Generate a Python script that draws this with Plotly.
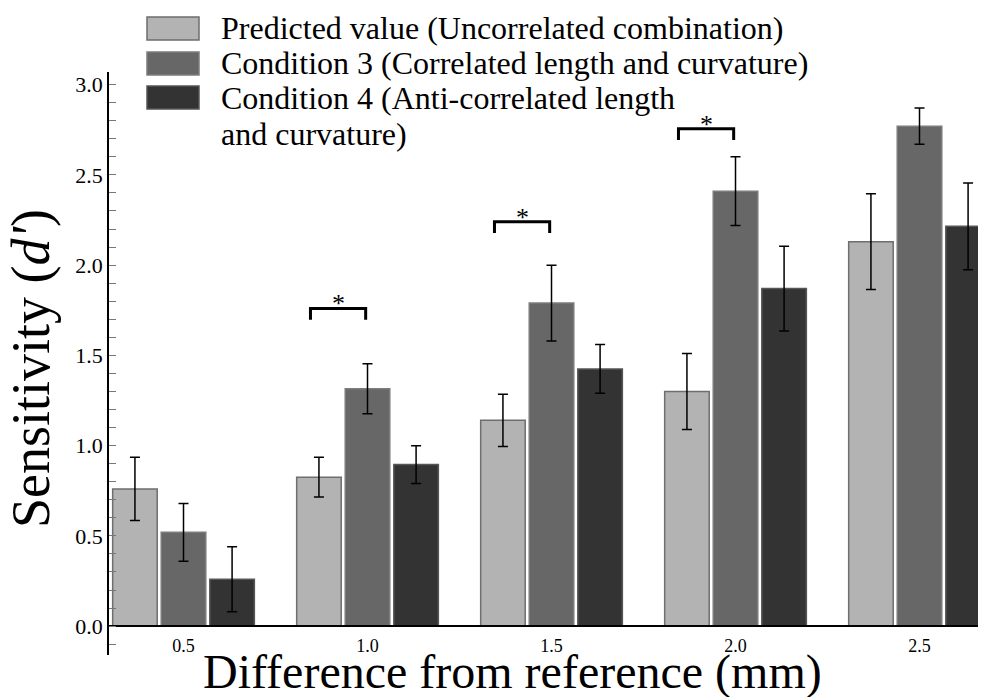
import plotly.graph_objects as go

# ---------------- data ----------------
differences = [0.5, 1.0, 1.5, 2.0, 2.5]
tick_labels = ["0.5", "1.0", "1.5", "2.0", "2.5"]

series_names = [
    "Predicted value (Uncorrelated combination)",
    "Condition 3 (Correlated length and curvature)",
    "Condition 4 (Anti-correlated length<br>and curvature)",
]
predicted = [0.76, 0.825, 1.14, 1.30, 2.13]
predicted_err = [0.175, 0.11, 0.145, 0.21, 0.265]
condition3 = [0.52, 1.315, 1.79, 2.41, 2.77]
condition3_err = [0.16, 0.138, 0.21, 0.19, 0.10]
condition4 = [0.26, 0.895, 1.425, 1.87, 2.215]
condition4_err = [0.18, 0.105, 0.135, 0.235, 0.24]

sig_groups = [1.0, 1.5, 2.0]
sig_heights = [1.76, 2.24, 2.755]

# ---------------- styles ----------------
fills = ["#b3b3b3", "#676767", "#333333"]
edges = ["#6e6e6e", "#7c7c7c", "#565656"]
SERIF = "Liberation Serif, Times New Roman, serif"

# the page adds an 8px body margin; size the figure so it fills the window
PAGE_OFF = 8
W, H = 986 - PAGE_OFF, 697 - PAGE_OFF
ML, MR, MT, MB = 108 - PAGE_OFF, 0, 72 - PAGE_OFF, 42
plot_w = W - ML - MR
plot_h = H - MT - MB


def px(xp):
    """page x pixel -> paper fraction"""
    return (xp - PAGE_OFF - ML) / plot_w


def py(yp):
    """page y pixel -> paper fraction"""
    return (H - MB - (yp - PAGE_OFF)) / plot_h


fig = go.Figure()
values = [predicted, condition3, condition4]
errors = [predicted_err, condition3_err, condition4_err]
for name, vals, errs, fc, ec in zip(series_names, values, errors, fills, edges):
    fig.add_trace(go.Bar(
        x=differences, y=vals, name=name.replace("<br>", " "),
        marker=dict(color=fc, line=dict(color=ec, width=1.5)),
        error_y=dict(type="data", array=errs, visible=True,
                     color="black", thickness=1.5, width=5),
        showlegend=False,
    ))

# significance brackets
left_off, right_off, drop = -0.155, -0.005, 0.062
for g, h in zip(sig_groups, sig_heights):
    fig.add_trace(go.Scatter(
        x=[g + left_off, g + left_off, g + right_off, g + right_off],
        y=[h - drop, h, h, h - drop],
        mode="lines", line=dict(color="black", width=3),
        showlegend=False, hoverinfo="skip",
    ))
    fig.add_annotation(x=g + (left_off + right_off) / 2, y=h, text="*",
                       showarrow=False, yanchor="bottom", yshift=-12,
                       font=dict(family=SERIF, size=26, color="black"))

# manual legend (large swatches)
box_tops = [17, 52, 86]
box_h = 23
for i, (fc, ec) in enumerate(zip(fills, edges)):
    fig.add_shape(type="rect", xref="paper", yref="paper",
                  x0=px(147), x1=px(199),
                  y0=py(box_tops[i] + box_h), y1=py(box_tops[i]),
                  fillcolor=fc, line=dict(color=ec, width=1.5))
legend_lines = []
for name in series_names:
    legend_lines.extend(name.split("<br>"))
line_centers = [28, 63, 98, 134]
for txt, yc in zip(legend_lines, line_centers):
    fig.add_annotation(xref="paper", yref="paper", x=px(219), y=py(yc),
                       xanchor="left", yanchor="middle", text=txt,
                       showarrow=False,
                       font=dict(family=SERIF, size=32, color="black"))

# axis titles
fig.add_annotation(xref="paper", yref="paper", x=px(512), y=py(672),
                   text="Difference from reference (mm)", showarrow=False,
                   xanchor="center", yanchor="middle",
                   font=dict(family=SERIF, size=48, color="black"))
fig.add_annotation(xref="paper", yref="paper", x=px(31), y=py(369),
                   text="Sensitivity (<i>d'</i>)", showarrow=False,
                   textangle=-90, xanchor="center", yanchor="middle",
                   font=dict(family=SERIF, size=54, color="black"))

y_min, y_max = -0.16, 3.07
fig.update_layout(
    width=W, height=H,
    margin=dict(l=ML, r=MR, t=MT, b=MB, pad=0, autoexpand=False),
    paper_bgcolor="white", plot_bgcolor="white",
    barmode="group", bargap=0.208, bargroupgap=0.083,
    font=dict(family=SERIF, color="black"),
    xaxis=dict(
        range=[0.2948, 0.2948 + plot_w / 368.0],
        tickvals=differences, ticktext=tick_labels,
        ticks="", showgrid=False, zeroline=False, automargin=False,
        showline=True, linecolor="black", linewidth=1.5,
        anchor="free", position=(0 - y_min) / (y_max - y_min),
        tickfont=dict(family=SERIF, size=18, color="black"),
        ticklabelstandoff=4,
    ),
    yaxis=dict(
        range=[y_min, y_max], tickvals=[0, 0.5, 1.0, 1.5, 2.0, 2.5, 3.0],
        tickformat=".1f", ticks="inside", ticklen=7, tickcolor="#777777",
        tickwidth=1, showgrid=False, zeroline=False, automargin=False,
        showline=True, linecolor="black", linewidth=1.5,
        anchor="free", position=0,
        tickfont=dict(family=SERIF, size=22, color="black"),
        minor=dict(dtick=0.1, tick0=0, ticks="inside", ticklen=7,
                   tickcolor="#777777", tickwidth=1, showgrid=False),
    ),
)

fig.write_html("out.html")
